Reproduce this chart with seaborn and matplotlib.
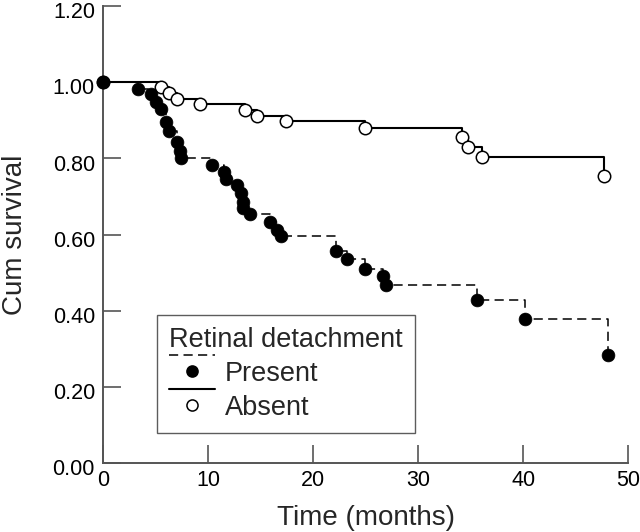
import matplotlib
matplotlib.use("Agg")
import matplotlib.pyplot as plt
import matplotlib.transforms as mtransforms
import seaborn as sns
from matplotlib.lines import Line2D
from matplotlib.legend_handler import HandlerBase
from matplotlib.ticker import FormatStrFormatter

# Kaplan-Meier readings, retinal detachment present
present_time = [0, 3.3, 4.5, 5.0, 5.5, 6.0, 6.3, 7.0, 7.3, 7.4, 10.4, 11.5, 11.7,
                12.7, 13.1, 13.3, 13.35, 14.0, 15.9, 16.5, 16.9, 22.2, 23.2, 24.9,
                26.6, 26.9, 35.6, 40.2, 48.1]
present_surv = [1.0, 0.982, 0.969, 0.949, 0.929, 0.895, 0.872, 0.842, 0.819, 0.800,
                0.783, 0.765, 0.746, 0.730, 0.709, 0.686, 0.669, 0.654, 0.632, 0.612,
                0.596, 0.556, 0.536, 0.511, 0.491, 0.467, 0.428, 0.379, 0.285]

# retinal detachment absent
absent_time = [0, 5.5, 6.3, 7.05, 9.2, 13.5, 14.6, 17.4, 24.9, 34.2, 34.7, 36.1, 47.7]
absent_surv = [1.0, 0.987, 0.971, 0.956, 0.943, 0.927, 0.911, 0.897, 0.881, 0.856,
               0.829, 0.803, 0.753]

x_ticks = [0, 10, 20, 30, 40, 50]
y_ticks = [0.0, 0.2, 0.4, 0.6, 0.8, 1.0, 1.2]

sns.set_theme(style="ticks")
plt.rcParams["font.family"] = ["Liberation Sans", "DejaVu Sans"]

AX_COL = "#555555"
DASH = (6, 3.5)


class LineAboveMarker(HandlerBase):
    # SPSS-style legend key: line segment drawn above the symbol
    def create_artists(self, legend, orig_handle, xdescent, ydescent,
                       width, height, fontsize, trans):
        x0 = -xdescent
        ym = -ydescent + height / 2
        ln = Line2D([x0, x0 + width], [ym + 0.62 * fontsize] * 2,
                    color="black", lw=orig_handle.get_linewidth())
        if orig_handle.get_linestyle() == "--":
            ln.set_dashes(DASH)
        mk = Line2D([x0 + width / 2], [ym], marker="o", linestyle="none",
                    markersize=8, markerfacecolor=orig_handle.get_markerfacecolor(),
                    markeredgecolor="black", markeredgewidth=1.1)
        ln.set_transform(trans)
        mk.set_transform(trans)
        return [ln, mk]


fig = plt.figure(figsize=(6.4, 5.32), dpi=100)
ax = fig.add_axes([0.1614, 0.1291, 0.8203, 0.8596])

# absent: solid step line, open circles
sns.lineplot(x=absent_time, y=absent_surv, ax=ax, color="black", lw=1.5,
             estimator=None, sort=False, drawstyle="steps-post")
sns.scatterplot(x=absent_time, y=absent_surv, ax=ax, s=80, color="white",
                edgecolor="black", linewidth=1.1, zorder=4, clip_on=False)

# present: dashed step line, filled circles
sns.lineplot(x=present_time, y=present_surv, ax=ax, color="black", lw=1.1,
             estimator=None, sort=False, drawstyle="steps-post")
ax.lines[-1].set_dashes(DASH)
sns.scatterplot(x=present_time, y=present_surv, ax=ax, s=85, color="black",
                edgecolor="black", linewidth=0.5, zorder=5, clip_on=False)

ax.set_xlim(0, 50)
ax.set_ylim(0, 1.2)
ax.set_xticks(x_ticks)
ax.set_yticks(y_ticks)
ax.yaxis.set_major_formatter(FormatStrFormatter("%.2f"))
ax.tick_params(direction="in", length=13, width=1.2, color=AX_COL,
               labelsize=15.5, labelcolor="black")
ax.tick_params(axis="x", pad=5)
ax.tick_params(axis="y", pad=6)
# y labels sit a little below their ticks, as in the original
shift = mtransforms.ScaledTranslation(0, -3 / 72, fig.dpi_scale_trans)
for t in ax.yaxis.get_major_ticks():
    t.label1.set_transform(t.label1.get_transform() + shift)
sns.despine(ax=ax)
for s in ["left", "bottom"]:
    ax.spines[s].set_color(AX_COL)
    ax.spines[s].set_linewidth(1.4)

ax.set_xlabel("Time (months)", fontsize=20, labelpad=10)
ax.set_ylabel("Cum survival", fontsize=20, labelpad=18)

h_present = Line2D([], [], color="black", lw=1.1, linestyle="--",
                   marker="o", markerfacecolor="black")
h_absent = Line2D([], [], color="black", lw=1.5, linestyle="-",
                  marker="o", markerfacecolor="white")
leg = ax.legend([h_present, h_absent], ["Present", "Absent"],
                title="Retinal detachment", title_fontsize=19.5, fontsize=19.5,
                loc="lower left", bbox_to_anchor=(0.102, 0.066),
                borderaxespad=0, borderpad=0.45, handlelength=1.7,
                handletextpad=0.35, labelspacing=0.3, alignment="left",
                frameon=True, fancybox=False, edgecolor="#333333",
                handler_map={h_present: LineAboveMarker(), h_absent: LineAboveMarker()})
leg.get_frame().set_linewidth(1.0)

fig.savefig("out.png", dpi=100)
